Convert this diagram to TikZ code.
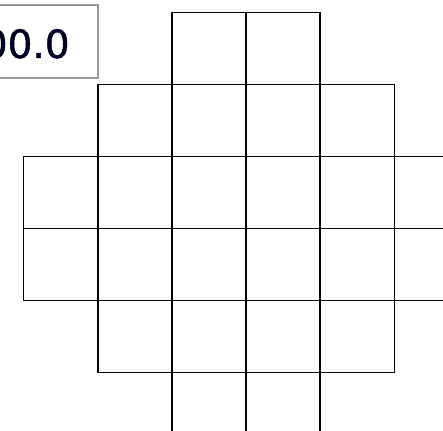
\documentclass[tikz,border=0pt]{standalone}
\usepackage{fontspec}
\newfontfamily\digitfont[FakeBold=1.2]{DejaVu Sans}
\begin{document}
\begin{tikzpicture}[x=1pt,y=-1pt,
  cell/.style={draw=black,line width=1.9pt},
  valbox/.style={draw=black!40,line width=1.2pt,fill=white},
  valtext/.style={anchor=base west,inner sep=0pt,text=black!85!blue,font=\digitfont\fontsize{39}{39}\selectfont}]
\useasboundingbox (0,0) rectangle (443,430);
\clip (0,0) rectangle (443,430);
% grid cells: columns at 23.5+74.2k, rows at 12.5+72r
\foreach \r/\a/\b in {0/2/3,1/1/4,2/0/5,3/0/5,4/1/4,5/2/3}{
  \foreach \c in {\a,...,\b}{
    \draw[cell] ({23.5+74.2*\c},{12.5+72*\r}) rectangle ({23.5+74.2*(\c+1)},{12.5+72*(\r+1)});
  }
}
% value box
\draw[valbox] (-5,5) rectangle (98,78);
\node[valtext] (val) at (-17.4,58) {00.0};
\end{tikzpicture}
\end{document}
